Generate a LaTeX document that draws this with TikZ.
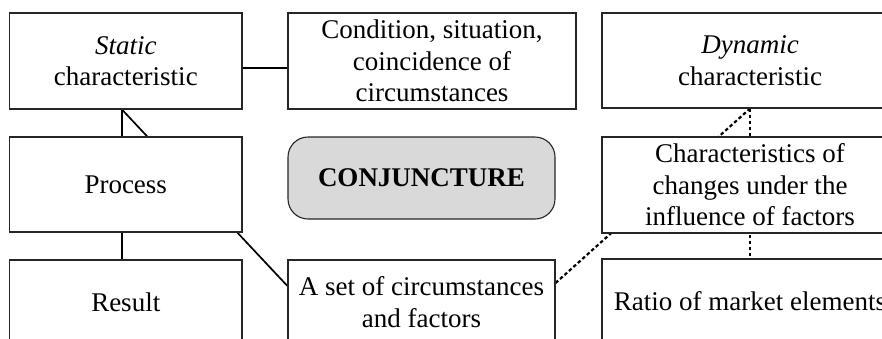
\documentclass[tikz,border=0pt]{standalone}
\usepackage{fontspec}
\setmainfont{Liberation Serif}
\usetikzlibrary{backgrounds}
\begin{document}
\begin{tikzpicture}[x=1pt,y=-1pt,
  box/.style={draw=black!85, line width=1.1pt, fill=white, inner sep=0pt, align=center,
    font=\fontsize{27}{31.5}\selectfont},
  conjbox/.style={box, fill=black!15, rounded corners=20pt},
  conn/.style={line width=1.7pt, black},
  dotconn/.style={line width=2.2pt, black, dash pattern=on 3.5pt off 2.5pt}]
\clip (0,0) rectangle (882,338);
\node[box, minimum width=232.5pt, minimum height=96pt] (Static) at (125.75,61) {\textit{Static}\\characteristic};
\node[box, minimum width=288pt, minimum height=96pt] (Condition) at (432,61) {Condition, situation,\\coincidence of\\circumstances};
\node[box, minimum width=296pt, minimum height=95pt] (Dynamic) at (750,60.5) {\textit{Dynamic}\\characteristic};
\node[box, minimum width=232.5pt, minimum height=95pt] (Process) at (125.75,184.5) {Process};
\node[conjbox, minimum width=267pt, minimum height=82pt] (Conj) at (421.5,178) {\textbf{CONJUNCTURE}};
\node[box, minimum width=296pt, minimum height=96pt] (Charac) at (750,185) {Characteristics of\\changes under the\\influence of factors};
\node[box, minimum width=232.5pt, minimum height=84pt] (Result) at (125.75,302) {Result};
\node[box, minimum width=267pt, minimum height=84pt] (Set) at (421.5,302) {A set of circumstances\\and factors};
\node[box, minimum width=296pt, minimum height=85pt] (Ratio) at (750,301.5) {Ratio of market elements};
\begin{pgfonlayer}{background}
  \draw[conn] (Static.east |- 0,68) -- (Condition.west |- 0,68);
  \draw[conn] (Static.south -| 122,0) -- (Result.north -| 122,0);
  \draw[conn] (Static.south -| 122,0) -- (Set.west |- 0,286);
  \draw[dotconn] (Set.east |- 0,283) -- (Dynamic.south);
  \draw[dotconn] (Dynamic.south) -- (Ratio.north);
\end{pgfonlayer}
\end{tikzpicture}
\end{document}
